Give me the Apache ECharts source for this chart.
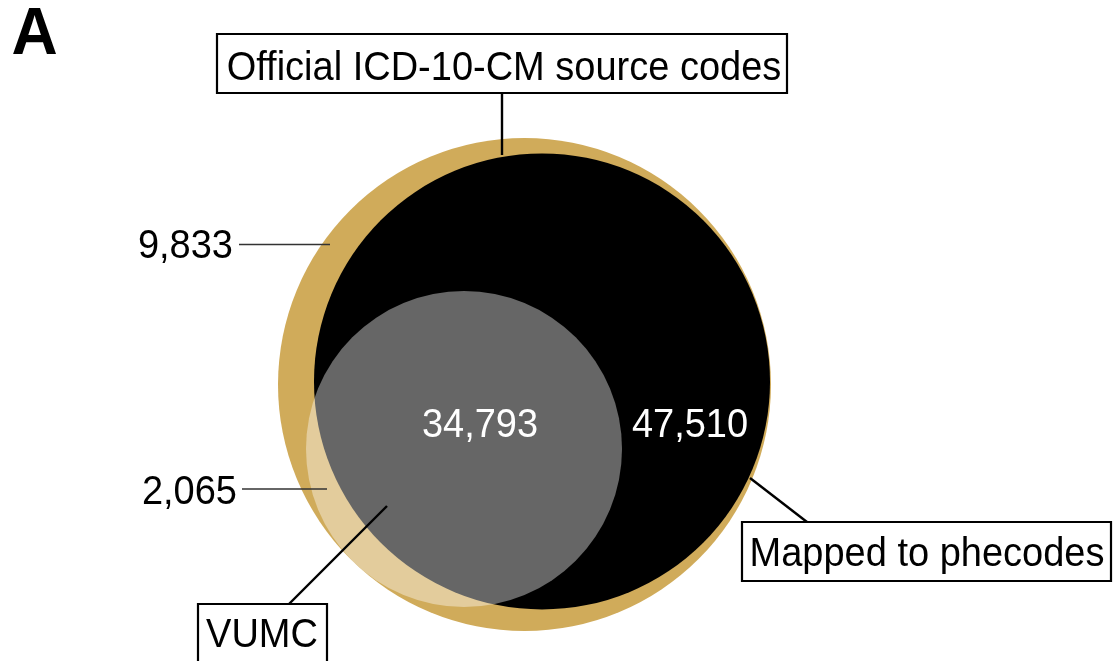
<!DOCTYPE html>
<html>
<head>
<meta charset="utf-8">
<script src="https://cdn.jsdelivr.net/npm/echarts@6/dist/echarts.min.js"></script>
<style>
html,body{margin:0;padding:0;background:#fff;}
#chart{width:1114px;height:661px;}
</style>
</head>
<body>
<div id="chart"></div>
<script>
// ---- data ----
const setNames = ['Official ICD-10-CM source codes', 'Mapped to phecodes', 'VUMC'];
// circle centres / radii in Euler-diagram layout units
const circleX = [0, 0.71, -2.454];
const circleY = [0, 0.122, -2.617];
const circleR = [10, 9.25, 6.41];
const regionCounts = [9833, 2065, 34793, 47510];
const regionLabels = regionCounts.map(v => v.toLocaleString('en-US'));

const fills = ['#D0AB5A', '#000000', 'rgba(255,255,255,0.4)'];
const FONT = '"Liberation Sans", Arial, Helvetica, sans-serif';
const DY = 2.5;     // vertical nudge of text
const SY = 1.07;    // slight vertical stretch of glyphs

const chart = echarts.init(document.getElementById('chart'), null, {renderer: 'canvas'});

const circleData = setNames.map((n, i) => ({name: n, value: [circleX[i], circleY[i], circleR[i]]}));

function label(txt, x, y, align, color) {
  return {type: 'text', x, y: y + DY, scaleY: SY, z: 11,
    style: {text: txt, font: '38px ' + FONT, fill: color || '#000', align: align || 'center', verticalAlign: 'middle'}};
}
function boxText(txt, cx, cy, x0, y0, w, h) {
  return [
    {type: 'rect', shape: {x: x0, y: y0, width: w, height: h},
     style: {fill: '#fff', stroke: '#000', lineWidth: 2.2}, z: 10},
    label(txt, cx, cy, 'center')
  ];
}
function line(x1, y1, x2, y2, w, c) {
  return {type: 'line', shape: {x1, y1, x2, y2}, style: {stroke: c || '#000', lineWidth: w || 2.4}, z: 9};
}

const graphics = [
  {type: 'text', x: 34.5, y: 36, scaleY: 1.03, z: 11,
   style: {text: 'A', font: 'bold 64px ' + FONT, fill: '#000', align: 'center', verticalAlign: 'middle'}},
  line(502, 93, 502, 155),
  ...boxText(setNames[0], 504, 66, 217, 34, 570, 59),
  line(239, 244.5, 330, 244.5, 1.6, '#333'),
  label(regionLabels[0], 233, 244, 'right'),
  line(242, 489, 327, 489, 1.6, '#333'),
  label(regionLabels[1], 237, 490.5, 'right'),
  label(regionLabels[2], 480, 423, 'center', '#fff'),
  label(regionLabels[3], 690, 423, 'center', '#fff'),
  line(750, 478, 807, 522),
  ...boxText(setNames[1], 927, 552, 742, 522, 369, 59),
  line(387, 506, 289, 604),
  ...boxText(setNames[2], 262, 633, 198, 604, 129, 59)
];

chart.setOption({
  animation: false,
  backgroundColor: '#fff',
  grid: {left: 0, right: 0, top: 0, bottom: 0},
  xAxis: {type: 'value', min: -21.278, max: 23.915, show: false},
  yAxis: {type: 'value', min: -11.217, max: 15.598, show: false},
  series: [{
    type: 'custom',
    coordinateSystem: 'cartesian2d',
    data: circleData,
    renderItem: function (params, api) {
      const c = api.coord([api.value(0), api.value(1)]);
      const s = api.size([api.value(2), api.value(2)]);
      return {type: 'circle', shape: {cx: c[0], cy: c[1], r: s[0]},
              style: {fill: fills[params.dataIndex]}};
    },
    silent: true
  }],
  graphic: graphics
});
</script>
</body>
</html>
